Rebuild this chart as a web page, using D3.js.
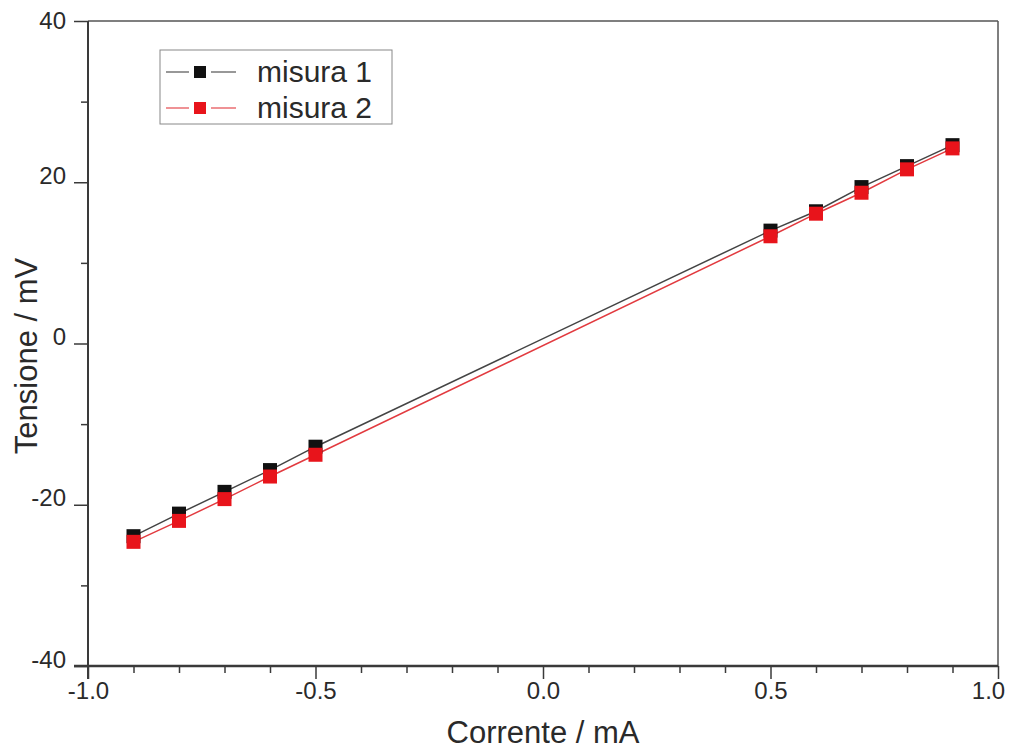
<!DOCTYPE html>
<html>
<head>
<meta charset="utf-8">
<script src="https://cdn.jsdelivr.net/npm/d3@7"></script>
<style>
  html, body { margin: 0; padding: 0; background: #fff; }
  svg { display: block; font-family: "Liberation Sans", Arial, sans-serif; }
</style>
</head>
<body>
<svg id="chart" width="1010" height="749"></svg>
<script>
// ---- data ----
const currents = [-0.9, -0.8, -0.7, -0.6, -0.5, 0.5, 0.6, 0.7, 0.8, 0.9];
const misura1 = [-23.9, -21.1, -18.4, -15.7, -12.8, 14.0, 16.4, 19.4, 22.0, 24.6];
const misura2 = [-24.6, -22.0, -19.3, -16.5, -13.8, 13.3, 16.1, 18.7, 21.6, 24.2];
const seriesNames = ["misura 1", "misura 2"];
const xTicks = [-1.0, -0.5, 0.0, 0.5, 1.0];
const yTicks = [-40, -20, 0, 20, 40];
const xTitle = "Corrente / mA";
const yTitle = "Tensione / mV";

// ---- layout ----
const L = 88, R = 998, T = 21, B = 666;
const svg = d3.select("#chart");
const x = d3.scaleLinear().domain([-1, 1]).range([L, R]);
const y = d3.scaleLinear().domain([-40, 40]).range([B, T]);
const axisColor = "#3a3a3a";
const textColor = "#2a2a2a";
const colors = ["#111111", "#e8141b"];
const lineColors = ["#444444", "#e23a3f"];
const hyphen = f => d => f(d).replace("\u2212", "-");

// frame (top/right)
svg.append("line").attr("x1", L).attr("x2", R).attr("y1", T).attr("y2", T)
  .attr("stroke", "#555").attr("stroke-width", 1.5);
svg.append("line").attr("x1", R).attr("x2", R).attr("y1", T).attr("y2", B)
  .attr("stroke", "#555").attr("stroke-width", 1.5);

// minor ticks
const xMinor = d3.range(-10, 11).map(d => d / 10).filter(d => !xTicks.some(t => Math.abs(t - d) < 1e-9));
const yMinor = [-30, -10, 10, 30];
const gx = svg.append("g").attr("transform", `translate(0,${B})`)
  .call(d3.axisBottom(x).tickValues(xTicks).tickFormat(hyphen(d3.format(".1f"))).tickSize(13).tickPadding(3));
gx.select(".domain").remove();
gx.selectAll(".tick line").attr("stroke", axisColor).attr("stroke-width", 1.5);
gx.selectAll(".tick text").attr("font-size", 24).attr("fill", textColor)
  .attr("font-family", "Liberation Sans, Arial, sans-serif")
  .attr("dx", d => d === 1 ? -10 : 0);
svg.append("g").attr("transform", `translate(0,${B})`)
  .call(d3.axisBottom(x).tickValues(xMinor).tickFormat("").tickSize(7))
  .call(g => g.select(".domain").remove())
  .selectAll(".tick line").attr("stroke", axisColor).attr("stroke-width", 1.5);

const gy = svg.append("g").attr("transform", `translate(${L},0)`)
  .call(d3.axisLeft(y).tickValues(yTicks).tickFormat(hyphen(d3.format("d"))).tickSize(14).tickPadding(8));
gy.select(".domain").remove();
gy.selectAll(".tick line").attr("stroke", axisColor).attr("stroke-width", 1.5);
gy.selectAll(".tick text").attr("font-size", 24).attr("fill", textColor)
  .attr("font-family", "Liberation Sans, Arial, sans-serif")
  .attr("dy", d => d === 40 ? "0.32em" : "0.05em");
svg.append("g").attr("transform", `translate(${L},0)`)
  .call(d3.axisLeft(y).tickValues(yMinor).tickFormat("").tickSize(7))
  .call(g => g.select(".domain").remove())
  .selectAll(".tick line").attr("stroke", axisColor).attr("stroke-width", 1.5);

// axis lines
svg.append("line").attr("x1", L - 14).attr("x2", R).attr("y1", B).attr("y2", B)
  .attr("stroke", axisColor).attr("stroke-width", 2.5);
svg.append("line").attr("x1", L).attr("x2", L).attr("y1", T).attr("y2", B + 13)
  .attr("stroke", axisColor).attr("stroke-width", 2);

// titles
svg.append("text").attr("x", x(0)).attr("y", 743).attr("text-anchor", "middle")
  .attr("font-size", 31).attr("fill", textColor).text(xTitle);
svg.append("text").attr("transform", `translate(37,356) rotate(-90)`).attr("text-anchor", "middle")
  .attr("font-size", 31).attr("fill", textColor).text(yTitle);

// series
const series = [misura1, misura2];
const line = d3.line().x(d => x(d[0])).y(d => y(d[1]));
const ms = 14;
series.forEach((vals, i) => {
  const pts = currents.map((c, j) => [c, vals[j]]);
  svg.append("path").datum(pts).attr("d", line).attr("fill", "none")
    .attr("stroke", lineColors[i]).attr("stroke-width", 1.5);
});
series.forEach((vals, i) => {
  const pts = currents.map((c, j) => [c, vals[j]]);
  svg.append("g").selectAll("rect").data(pts).join("rect")
    .attr("x", d => x(d[0]) - ms / 2).attr("y", d => y(d[1]) - ms / 2)
    .attr("width", ms).attr("height", ms).attr("fill", colors[i]);
});

// legend
const lg = svg.append("g");
lg.append("rect").attr("x", 160).attr("y", 50).attr("width", 232).attr("height", 74)
  .attr("fill", "#fff").attr("stroke", "#888").attr("stroke-width", 1);
seriesNames.forEach((name, i) => {
  const cy = 72 + i * 36;
  [[166, 189], [211, 236]].forEach(([a, b]) => {
    lg.append("line").attr("x1", a).attr("x2", b).attr("y1", cy).attr("y2", cy)
      .attr("stroke", lineColors[i]).attr("stroke-width", 2).attr("opacity", 0.55);
  });
  lg.append("rect").attr("x", 200 - 6).attr("y", cy - 6).attr("width", 12).attr("height", 12)
    .attr("fill", colors[i]);
  lg.append("text").attr("x", 257).attr("y", cy + 10).attr("font-size", 30)
    .attr("fill", textColor).text(name);
});
</script>
</body>
</html>
